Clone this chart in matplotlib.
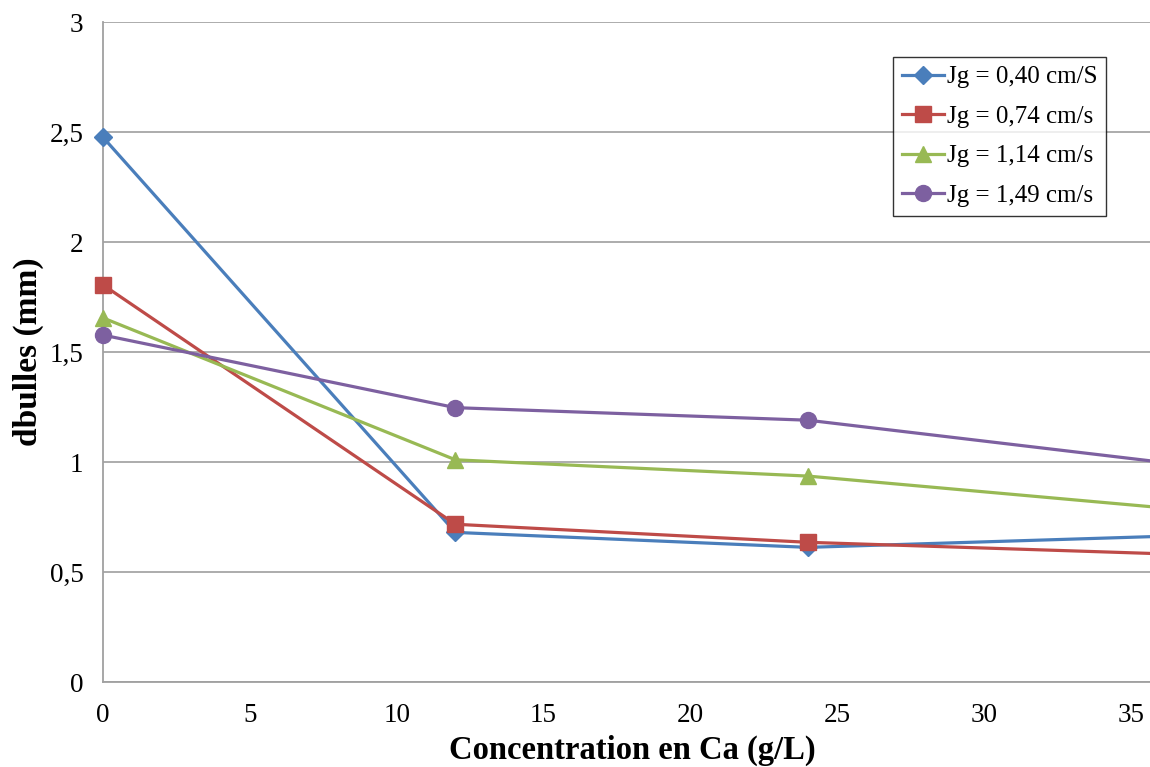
import matplotlib
matplotlib.use("Agg")
import matplotlib.pyplot as plt

# Data
conc = [0, 12, 24, 36]
jg040 = [2.476, 0.68, 0.612, 0.662]
jg074 = [1.805, 0.717, 0.635, 0.583]
jg114 = [1.655, 1.01, 0.936, 0.793]
jg149 = [1.577, 1.247, 1.19, 1.0]
series_labels = ["Jg = 0,40 cm/S", "Jg = 0,74 cm/s", "Jg = 1,14 cm/s", "Jg = 1,49 cm/s"]
xticks = [0, 5, 10, 15, 20, 25, 30, 35]
yticks = [0, 0.5, 1, 1.5, 2, 2.5, 3]
ytick_labels = ["0", "0,5", "1", "1,5", "2", "2,5", "3"]
xlabel = "Concentration en Ca (g/L)"
ylabel = "dbulles (mm)"

plt.rcParams['font.family'] = ['Liberation Serif', 'DejaVu Serif']

fig = plt.figure(figsize=(11.5, 7.67), dpi=100)
ax = fig.add_axes([103/1150, 85/767, 1 - 103/1150, (682-22)/767])

colors = ["#4a7ebb", "#be4b48", "#98b954", "#7d60a0"]
markers = ["D", "s", "^", "o"]
msizes = [9.5, 11, 11.5, 11.5]
for ys, lab, c, m, ms in zip([jg040, jg074, jg114, jg149], series_labels, colors, markers, msizes):
    ax.plot(conc, ys, color=c, lw=2.3, marker=m, ms=ms, mec=c, mfc=c, label=lab,
            clip_on=False, zorder=3)

ax.set_xlim(0, 35.65)
ax.set_ylim(0, 3)
ax.set_xticks(xticks)
ax.set_xticklabels([str(t) for t in xticks])
ax.set_yticks(yticks)
ax.set_yticklabels(ytick_labels)
ax.tick_params(length=0, labelsize=19.5)
ax.tick_params(axis='x', pad=15)
ax.tick_params(axis='y', pad=14)
ax.grid(axis='y', color='#a6a6a6', lw=1.3)
ax.set_axisbelow(True)
for s in ['top', 'right']:
    ax.spines[s].set_visible(False)
for s in ['left', 'bottom']:
    ax.spines[s].set_color('#a0a0a0')
    ax.spines[s].set_linewidth(1.3)

ax.set_xlabel(xlabel, fontsize=23.5, fontweight='bold')
ax.xaxis.set_label_coords((632 - 103) / (1150 - 103), -(750 - 682) / 660,
                          transform=ax.transAxes)
ax.xaxis.label.set_verticalalignment('center')
ax.set_ylabel(ylabel, fontsize=24, fontweight='bold')
ax.yaxis.set_label_coords(-(103 - 28) / (1150 - 103), (682 - 351.5) / 660,
                          transform=ax.transAxes)
ax.yaxis.label.set_verticalalignment('center')

leg = ax.legend(loc='upper left', bbox_to_anchor=(893/1150, 1 - 57/767),
                bbox_transform=fig.transFigure, fontsize=18, frameon=True,
                fancybox=False, edgecolor='black', handlelength=1.7,
                handletextpad=0.1, borderpad=0.35, labelspacing=0.68,
                borderaxespad=0)
leg.get_frame().set_linewidth(1.0)

fig.savefig("out.png", dpi=100)
